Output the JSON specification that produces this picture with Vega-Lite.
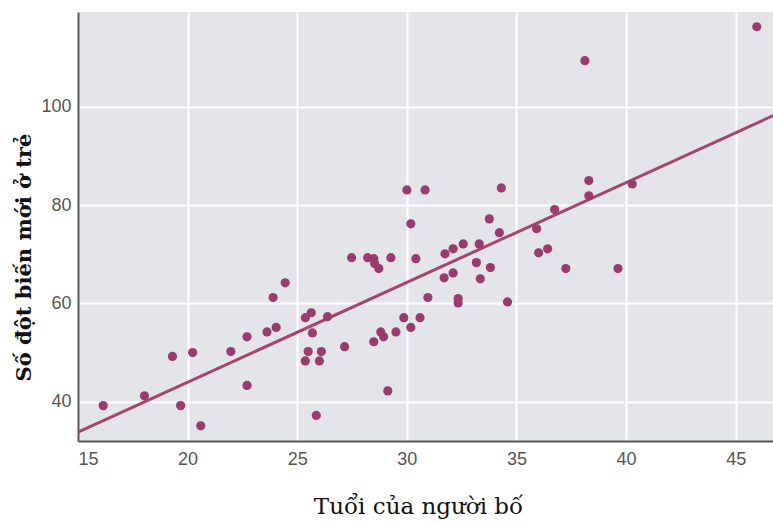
{
  "$schema": "https://vega.github.io/schema/vega-lite/v6.json",
  "autosize": "none",
  "width": 695,
  "height": 429,
  "padding": {"left": 78, "top": 12, "right": 0, "bottom": 82},
  "background": "white",
  "config": {
    "view": {"fill": "#e4e5e8", "stroke": null},
    "axis": {
      "grid": true,
      "gridColor": "white",
      "gridWidth": 2,
      "domainColor": "#555555",
      "domainWidth": 2,
      "ticks": false,
      "labelFont": "Liberation Sans",
      "labelFontSize": 18,
      "labelColor": "#555555",
      "titleColor": "#111111",
      "titleFont": "DejaVu Serif"
    }
  },
  "data": {
    "values": [
      {"age": 16.15, "mut": 39.2}, {"age": 18.03, "mut": 41.2}, {"age": 19.31, "mut": 49.2},
      {"age": 19.68, "mut": 39.2}, {"age": 20.23, "mut": 50.0}, {"age": 20.6, "mut": 35.1},
      {"age": 21.97, "mut": 50.2}, {"age": 22.71, "mut": 53.2}, {"age": 22.71, "mut": 43.3},
      {"age": 23.62, "mut": 54.2}, {"age": 24.04, "mut": 55.1}, {"age": 23.9, "mut": 61.2},
      {"age": 24.45, "mut": 64.2}, {"age": 25.37, "mut": 57.1}, {"age": 25.64, "mut": 58.1},
      {"age": 26.38, "mut": 57.3}, {"age": 25.69, "mut": 54.0}, {"age": 25.5, "mut": 50.2},
      {"age": 26.1, "mut": 50.2}, {"age": 25.37, "mut": 48.3}, {"age": 26.01, "mut": 48.3},
      {"age": 25.87, "mut": 37.2}, {"age": 27.16, "mut": 51.2}, {"age": 27.48, "mut": 69.3},
      {"age": 28.21, "mut": 69.3}, {"age": 28.49, "mut": 69.1}, {"age": 28.53, "mut": 68.1},
      {"age": 28.72, "mut": 67.1}, {"age": 29.27, "mut": 69.3}, {"age": 30.41, "mut": 69.1},
      {"age": 30.0, "mut": 83.1}, {"age": 30.83, "mut": 83.1}, {"age": 30.18, "mut": 76.2},
      {"age": 29.86, "mut": 57.1}, {"age": 30.18, "mut": 55.1}, {"age": 30.6, "mut": 57.1},
      {"age": 29.5, "mut": 54.2}, {"age": 28.81, "mut": 54.2}, {"age": 28.94, "mut": 53.2},
      {"age": 28.49, "mut": 52.2}, {"age": 29.13, "mut": 42.2}, {"age": 30.96, "mut": 61.2},
      {"age": 31.74, "mut": 70.1}, {"age": 32.11, "mut": 71.1}, {"age": 32.57, "mut": 72.1},
      {"age": 33.3, "mut": 72.1}, {"age": 31.7, "mut": 65.2}, {"age": 32.11, "mut": 66.2},
      {"age": 32.34, "mut": 61.0}, {"age": 32.34, "mut": 60.1}, {"age": 33.17, "mut": 68.3},
      {"age": 33.81, "mut": 67.3}, {"age": 33.35, "mut": 65.0}, {"age": 34.59, "mut": 60.3},
      {"age": 34.31, "mut": 83.5}, {"age": 33.76, "mut": 77.2}, {"age": 34.22, "mut": 74.4},
      {"age": 35.92, "mut": 75.2}, {"age": 36.42, "mut": 71.1}, {"age": 36.01, "mut": 70.3},
      {"age": 37.25, "mut": 67.1}, {"age": 36.74, "mut": 79.1}, {"age": 38.3, "mut": 85.0},
      {"age": 38.3, "mut": 81.9}, {"age": 40.28, "mut": 84.3}, {"age": 39.63, "mut": 67.1},
      {"age": 38.12, "mut": 109.4}, {"age": 45.96, "mut": 116.3}
    ]
  },
  "layer": [
    {
      "data": {"values": [{"age": 15, "mut": 33.8}, {"age": 46.7, "mut": 98.2}]},
      "mark": {"type": "line", "color": "#a3456f", "strokeWidth": 3, "clip": true},
      "encoding": {
        "x": {"field": "age", "type": "quantitative"},
        "y": {"field": "mut", "type": "quantitative"}
      }
    },
    {
      "mark": {"type": "circle", "color": "#9b3b6d", "opacity": 1, "size": 85, "clip": true},
      "encoding": {
        "x": {
          "field": "age", "type": "quantitative",
          "scale": {"domain": [15, 46.7], "nice": false, "zero": false},
          "axis": {
            "values": [15, 20, 25, 30, 35, 40, 45],
            "labelPadding": 9,
            "title": "Tuổi của người bố",
            "titleFontSize": 23,
            "titleFontWeight": "normal",
            "titleX": 340,
            "titleY": 72,
            "titleBaseline": "alphabetic"
          }
        },
        "y": {
          "field": "mut", "type": "quantitative",
          "scale": {"domain": [32, 119.3], "nice": false, "zero": false},
          "axis": {
            "values": [40, 60, 80, 100],
            "labelPadding": 7,
            "title": "Số đột biến mới ở trẻ",
            "titleFontSize": 21,
            "titleFontWeight": "bold",
            "titleAngle": -90,
            "titleX": -54,
            "titleY": 245,
            "titleAlign": "center",
            "titleBaseline": "middle"
          }
        }
      }
    }
  ]
}
